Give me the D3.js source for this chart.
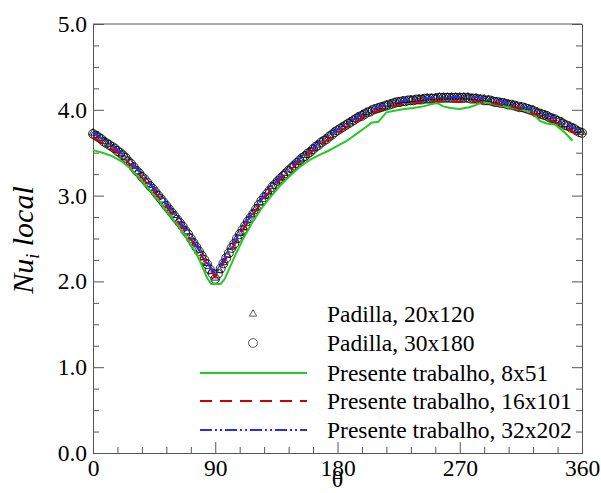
<!DOCTYPE html>
<html>
<head>
<meta charset="utf-8">
<script src="https://cdn.jsdelivr.net/npm/d3@7"></script>
<style>
  html, body { margin: 0; padding: 0; background: #fff; }
  svg { display: block; }
  text { font-family: "Liberation Serif", "Times New Roman", serif; fill: #000; }
</style>
</head>
<body>
<svg id="chart" width="601" height="493"></svg>
<script>
// ---------------- data ----------------
const xTicks = [0, 90, 180, 270, 360];
const yTicks = [0, 1, 2, 3, 4, 5];

// Padilla, 30x180 (circles) every 2 degrees
const thetaCircles = d3.range(0, 361, 2);
const padilla30 = [
  3.72,3.70,3.68,3.66,3.63,3.61,3.59,3.57,3.55,3.52,
  3.50,3.47,3.44,3.40,3.37,3.33,3.29,3.26,3.22,3.19,
  3.15,3.11,3.08,3.04,3.00,2.96,2.92,2.88,2.84,2.80,
  2.76,2.72,2.68,2.64,2.59,2.55,2.50,2.45,2.40,2.35,
  2.30,2.25,2.20,2.14,2.09,2.03,2.09,2.15,2.21,2.27,
  2.33,2.39,2.44,2.50,2.55,2.60,2.65,2.70,2.74,2.79,
  2.84,2.89,2.94,2.98,3.02,3.06,3.10,3.13,3.17,3.20,
  3.23,3.26,3.29,3.32,3.35,3.38,3.41,3.44,3.46,3.49,
  3.51,3.54,3.57,3.59,3.62,3.64,3.66,3.69,3.71,3.74,
  3.76,3.78,3.80,3.82,3.84,3.86,3.88,3.90,3.92,3.93,
  3.95,3.97,3.98,4.00,4.01,4.02,4.03,4.04,4.05,4.06,
  4.07,4.08,4.09,4.09,4.10,4.10,4.11,4.11,4.11,4.12,
  4.12,4.12,4.13,4.13,4.13,4.13,4.13,4.14,4.14,4.14,
  4.14,4.14,4.14,4.14,4.14,4.14,4.14,4.14,4.14,4.13,
  4.13,4.13,4.12,4.12,4.11,4.11,4.11,4.10,4.09,4.09,
  4.08,4.08,4.07,4.06,4.06,4.05,4.04,4.03,4.03,4.02,
  4.01,4.00,3.99,3.97,3.96,3.95,3.94,3.93,3.91,3.90,
  3.89,3.87,3.86,3.84,3.82,3.81,3.79,3.78,3.76,3.74,
  3.73
];

// Padilla, 20x120 (triangles) every 3 degrees
const thetaTriangles = d3.range(0, 361, 3);
const padilla20 = [
  3.73,3.70,3.67,3.63,3.60,3.56,3.53,3.49,3.45,3.39,
  3.34,3.28,3.23,3.17,3.12,3.06,3.01,2.95,2.89,2.83,
  2.77,2.71,2.65,2.58,2.51,2.44,2.36,2.28,2.21,2.12,
  2.04,2.13,2.22,2.31,2.40,2.48,2.56,2.63,2.71,2.78,
  2.85,2.92,2.99,3.05,3.11,3.16,3.21,3.26,3.30,3.35,
  3.39,3.43,3.47,3.51,3.55,3.59,3.63,3.66,3.70,3.74,
  3.77,3.80,3.83,3.86,3.89,3.92,3.95,3.97,3.99,4.01,
  4.03,4.04,4.06,4.07,4.09,4.10,4.11,4.11,4.12,4.12,
  4.13,4.13,4.14,4.14,4.14,4.15,4.15,4.15,4.15,4.15,
  4.15,4.15,4.15,4.14,4.14,4.13,4.13,4.12,4.11,4.10,
  4.09,4.08,4.07,4.06,4.05,4.04,4.03,4.01,4.00,3.98,
  3.96,3.94,3.92,3.90,3.88,3.86,3.83,3.81,3.79,3.76,
  3.74
];

// Presente trabalho, 8x51 (green)
const thetaGreen = [0,7,14,21,28,35,42,49,56,63,70,77,84,87,94,97,104,110,117,124,
  131,138,145,152,159,166,173,180,187,194,201,205,210,216,222,229,236,243,248,253,
  258,263,270,277,281,286,291,300,309,316,324,329,334,340,347,353];
const green8x51 = [3.53,3.50,3.46,3.40,3.31,3.19,3.06,2.93,2.78,2.64,2.48,2.30,2.04,1.97,1.97,2.03,2.28,2.48,2.68,2.85,
  2.99,3.12,3.23,3.33,3.41,3.47,3.52,3.58,3.64,3.72,3.80,3.85,3.86,3.97,3.99,4.01,4.02,4.04,4.06,4.08,
  4.04,4.02,4.01,4.03,4.05,4.09,4.08,4.05,4.02,4.00,3.96,3.87,3.84,3.83,3.74,3.64];

// Presente trabalho, 16x101 (red dashed)
const thetaRed = [0,10,20,30,40,50,60,70,80,90,100,110,120,130,140,150,160,170,180,190,
  200,210,220,230,240,250,260,270,280,290,300,310,320,330,340,350,356];
const red16x101 = [3.68,3.58,3.48,3.32,3.14,2.95,2.75,2.54,2.30,2.05,2.32,2.59,2.83,3.05,3.22,3.37,3.50,3.62,3.73,3.83,
  3.92,3.99,4.04,4.07,4.09,4.10,4.10,4.09,4.10,4.09,4.06,4.03,3.98,3.92,3.86,3.78,3.71];

// Presente trabalho, 32x202 (blue dash-dot-dot)
const thetaBlue = [0,10,20,30,40,50,60,70,80,90,100,110,120,130,140,150,160,170,180,190,
  200,210,220,230,240,250,260,270,280,290,300,310,320,330,340,350,358];
const blue32x202 = [3.74,3.63,3.51,3.35,3.17,2.98,2.78,2.57,2.32,2.07,2.35,2.62,2.86,3.08,3.25,3.40,3.53,3.66,3.77,3.87,
  3.96,4.03,4.08,4.11,4.13,4.14,4.15,4.15,4.15,4.13,4.10,4.06,4.02,3.96,3.90,3.82,3.76];

const legendLabels = [
  "Padilla, 20x120",
  "Padilla, 30x180",
  "Presente trabalho, 8x51",
  "Presente trabalho, 16x101",
  "Presente trabalho, 32x202"
];

// ---------------- drawing ----------------
const svg = d3.select("#chart");
svg.append("rect").attr("width", 601).attr("height", 493).attr("fill", "#fff");

const L = 93, R = 582, T = 24, B = 453;
const x = d3.scaleLinear().domain([0, 360]).range([L, R]);
const y = d3.scaleLinear().domain([0, 5]).range([B, T]);

const axisColor = "#555";
const fs = 23.5;

// minor ticks
const xMinor = d3.range(0, 361, 18).filter(v => v % 90 !== 0);
const yMinor = d3.range(0, 5.001, 0.25).filter(v => Math.abs(v - Math.round(v)) > 1e-6);

function styleAxis(g) {
  g.selectAll("path.domain").attr("stroke", axisColor).attr("stroke-width", 1);
  g.selectAll(".tick line").attr("stroke", axisColor).attr("stroke-width", 1);
  g.selectAll(".tick text").style("font-family", '"Liberation Serif", "Times New Roman", serif')
    .style("font-size", fs + "px").attr("fill", "#000");
}

// bottom
svg.append("g").attr("transform", `translate(0,${B})`)
  .call(d3.axisBottom(x).tickValues(xMinor).tickSizeInner(-6).tickSizeOuter(0).tickFormat(""))
  .call(styleAxis);
svg.append("g").attr("transform", `translate(0,${B})`)
  .call(d3.axisBottom(x).tickValues(xTicks).tickSizeInner(-11).tickSizeOuter(0).tickPadding(6).tickFormat(d3.format("d")))
  .call(styleAxis);

// left
svg.append("g").attr("transform", `translate(${L},0)`)
  .call(d3.axisLeft(y).tickValues(yMinor).tickSizeInner(-6).tickSizeOuter(0).tickFormat(""))
  .call(styleAxis);
svg.append("g").attr("transform", `translate(${L},0)`)
  .call(d3.axisLeft(y).tickValues(yTicks).tickSizeInner(-11).tickSizeOuter(0).tickPadding(6).tickFormat(d3.format(".1f")))
  .call(styleAxis);

// right
svg.append("g").attr("transform", `translate(${R},0)`)
  .call(d3.axisRight(y).tickValues(yMinor).tickSizeInner(-6).tickSizeOuter(0).tickFormat(""))
  .call(styleAxis);
svg.append("g").attr("transform", `translate(${R},0)`)
  .call(d3.axisRight(y).tickValues(yTicks).tickSizeInner(-10).tickSizeOuter(0).tickFormat(""))
  .call(styleAxis);

// top border
svg.append("line").attr("x1", L).attr("x2", R).attr("y1", T).attr("y2", T)
  .attr("stroke", axisColor).attr("stroke-width", 1);

// markers
const triPath = d3.symbol().type(d3.symbolTriangle).size(24)();
const circPath = d3.symbol().type(d3.symbolCircle).size(62)();
const markerStroke = "#111";

const gm = svg.append("g");
gm.selectAll("path.circ").data(thetaCircles.map((t, i) => [t, padilla30[i]]))
  .join("path").attr("class", "circ").attr("d", circPath)
  .attr("transform", d => `translate(${x(d[0])},${y(d[1])})`)
  .attr("fill", "none").attr("stroke", markerStroke).attr("stroke-width", 0.9);
gm.selectAll("path.tri").data(thetaTriangles.map((t, i) => [t, padilla20[i]]))
  .join("path").attr("class", "tri").attr("d", triPath)
  .attr("transform", d => `translate(${x(d[0])},${y(d[1])})`)
  .attr("fill", "none").attr("stroke", markerStroke).attr("stroke-width", 0.9);

// lines
const line = d3.line().x(d => x(d[0])).y(d => y(d[1]));
const series = [
  { th: thetaGreen, v: green8x51, color: "#22cc22", dash: null },
  { th: thetaRed, v: red16x101, color: "#d40000", dash: "12,8" },
  { th: thetaBlue, v: blue32x202, color: "#2a2aff", dash: "12,3,2,3,2,3" }
];
series.forEach(s => {
  svg.append("path").datum(s.th.map((t, i) => [t, s.v[i]]))
    .attr("d", line).attr("fill", "none")
    .attr("stroke", s.color).attr("stroke-width", 2)
    .attr("stroke-dasharray", s.dash);
});

// legend
const lg = svg.append("g");
const rowY = [314, 343, 373, 401, 430];
lg.append("path").attr("d", triPath).attr("transform", `translate(253,${rowY[0]})`)
  .attr("fill", "none").attr("stroke", "#333").attr("stroke-width", 0.8);
lg.append("path").attr("d", circPath).attr("transform", `translate(253,${rowY[1]})`)
  .attr("fill", "none").attr("stroke", "#333").attr("stroke-width", 0.8);
series.forEach((s, i) => {
  lg.append("line").attr("x1", 200).attr("x2", 307).attr("y1", rowY[i + 2]).attr("y2", rowY[i + 2])
    .attr("stroke", s.color).attr("stroke-width", 2).attr("stroke-dasharray", s.dash);
});
legendLabels.forEach((t, i) => {
  lg.append("text").attr("x", 327).attr("y", rowY[i]).attr("dy", "0.33em")
    .style("font-size", fs + "px").text(t);
});

// axis titles
svg.append("text").attr("x", (L + R) / 2).attr("y", 487).attr("text-anchor", "middle")
  .style("font-size", "24px").text("θ");

const yl = svg.append("text")
  .attr("transform", "translate(33,240) rotate(-90)")
  .attr("text-anchor", "middle")
  .style("font-size", "30px").style("font-style", "italic");
yl.append("tspan").text("Nu");
yl.append("tspan").attr("dy", 6).style("font-size", "18px").text("i");
yl.append("tspan").attr("dy", -6).text(" local");
</script>
</body>
</html>
